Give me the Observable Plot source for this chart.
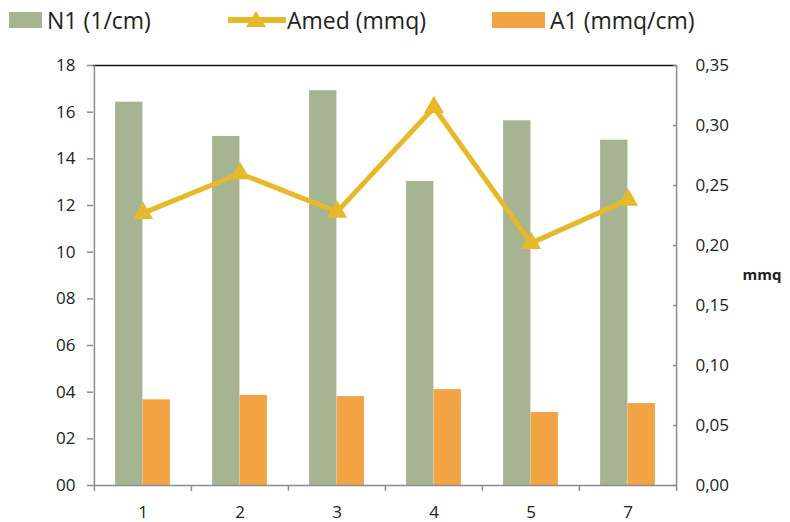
<!DOCTYPE html>
<html><head><meta charset="utf-8">
<script src="https://cdn.jsdelivr.net/npm/d3@7"></script>
<script src="https://cdn.jsdelivr.net/npm/@observablehq/plot@0.6"></script>
<style>
body{margin:0;background:#fff;font-family:"Open Sans",sans-serif;}
#wrap{position:relative;width:790px;height:522px;}
#legend{position:absolute;top:3px;left:0;width:790px;height:34px;font-family:"Open Sans",sans-serif;font-size:23px;color:#222;}
.li{position:absolute;top:0;display:flex;align-items:center;height:34px;white-space:nowrap;}
.sw{display:inline-block;width:33px;height:16px;margin-right:5px;}
</style></head><body>
<div id="wrap"><div id="legend"></div><div id="chart"></div></div>
<script>
const categories = ["1","2","3","4","5","7"];
const n1 = [16.43, 14.96, 16.92, 13.03, 15.63, 14.80];
const a1 = [3.67, 3.86, 3.81, 4.11, 3.13, 3.51];
const amed = [0.227, 0.260, 0.228, 0.315, 0.202, 0.238];
const leftTicks = [0,2,4,6,8,10,12,14,16,18];
const rightTicks = [0,0.05,0.10,0.15,0.20,0.25,0.30,0.35];

const W = 790, H = 522, mL = 93, mR = 114, mT = 65, mB = 37;
const bw = (W - mL - mR) / categories.length;
const barW = 27.5;
const yMax = 18, rMax = 0.35, k = yMax / rMax;
const green = "#A6B491", orange = "#F2A444", gold = "#E5B92A", axisGray = "#8c8c8c";

const rows = categories.map((c, i) => ({c, n1: n1[i], a1: a1[i], amed: amed[i] * k}));

const chart = Plot.plot({
  width: W, height: H, marginLeft: mL, marginRight: mR, marginTop: mT, marginBottom: mB,
  style: {fontFamily: "Open Sans, sans-serif", fontSize: "17px", color: "#222", background: "transparent"},
  x: {type: "band", domain: categories, padding: 0, axis: null, label: null},
  y: {domain: [0, yMax], axis: null, label: null},
  marks: [
    Plot.barY(rows, {x: "c", y: "n1", fill: green, insetLeft: bw/2 - barW, insetRight: bw/2}),
    Plot.barY(rows, {x: "c", y: "a1", fill: orange, insetLeft: bw/2, insetRight: bw/2 - barW}),
    Plot.ruleY([0], {stroke: axisGray, strokeWidth: 1.5}),
    Plot.ruleY([yMax], {stroke: "#111", strokeWidth: 1.5}),
    Plot.ruleX([categories[0]], {x: d => d, y1: 0, y2: yMax, dx: -bw/2, stroke: axisGray, strokeWidth: 1.5}),
    Plot.ruleX([categories[categories.length-1]], {x: d => d, y1: 0, y2: yMax, dx: bw/2, stroke: axisGray, strokeWidth: 1.5}),
    Plot.ruleX(categories, {x: d => d, y1: 0, y2: -0.25, dx: -bw/2, stroke: axisGray, strokeWidth: 1.5}),
    Plot.ruleX([categories[categories.length-1]], {x: d => d, y1: 0, y2: -0.25, dx: bw/2, stroke: axisGray, strokeWidth: 1.5}),
    Plot.lineY(rows, {x: "c", y: "amed", stroke: gold, strokeWidth: 5, strokeLinejoin: "miter"}),
    Plot.dot(rows, {x: "c", y: "amed", symbol: "triangle", r: 7.5, fill: gold, stroke: "none"}),
    Plot.axisY(leftTicks, {anchor: "left", tickSize: 6, stroke: axisGray, strokeWidth: 1.5, tickPadding: 12, label: null,
      tickFormat: d => String(d).padStart(2, "0"), fontSize: 17}),
    Plot.axisY(rightTicks.map(v => v * k), {anchor: "right", tickSize: -4, stroke: axisGray, strokeWidth: 1.5, tickPadding: 23, label: null,
      tickFormat: d => (d / k).toFixed(2).replace(".", ","), fontSize: 17}),
    Plot.text(["mmq"], {frameAnchor: "right", y: 0.175 * k, dx: 66, text: d => d, fontWeight: "bold", fontSize: 15, textAnchor: "start"}),
    Plot.axisX(categories, {anchor: "bottom", tickSize: 0, tickPadding: 20, fontSize: 17, label: null})
  ]
});
document.getElementById("chart").appendChild(chart);

const legendItems = [
  {label: "N1 (1/cm)", color: green, type: "rect", left: 9},
  {label: "Amed (mmq)", color: gold, type: "line", left: 228},
  {label: "A1 (mmq/cm)", color: orange, type: "rect", left: 492}
];
const lg = document.getElementById("legend");
for (const it of legendItems) {
  const d = document.createElement("div");
  d.className = "li"; d.style.left = it.left + "px";
  if (it.type === "rect") {
    d.innerHTML = `<span class="sw" style="background:${it.color};width:${it.left>400?53:33}px"></span>${it.label}`;
  } else {
    d.innerHTML = `<svg width="58" height="20" style="margin-right:1px"><line x1="0" y1="10" x2="56" y2="10" stroke="${it.color}" stroke-width="6" stroke-linecap="round"/><path d="M28,1 L38,17 L18,17 Z" fill="${it.color}"/></svg>${it.label}`;
  }
  lg.appendChild(d);
}
</script></body></html>
